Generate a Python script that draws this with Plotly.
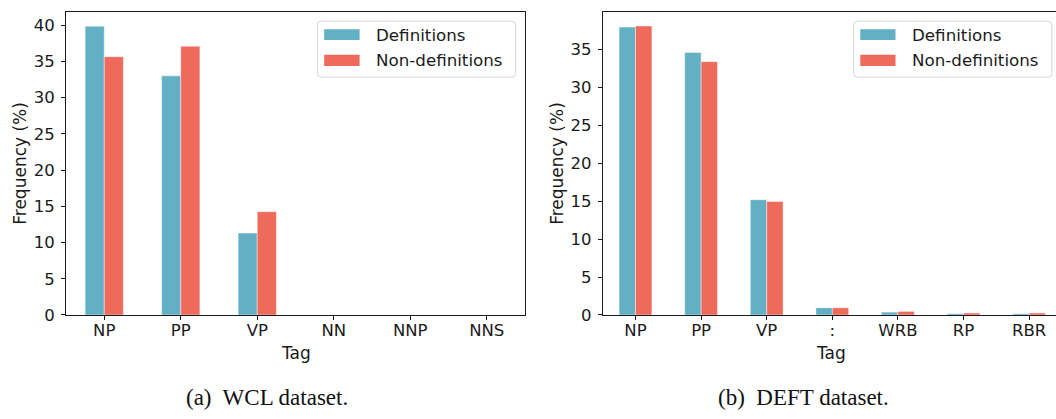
import plotly.graph_objects as go

W, H = 1056, 419

# ---- data ----
wcl_tags = ["NP", "PP", "VP", "NN", "NNP", "NNS"]
wcl_def = [39.85, 33.0, 11.3, 0.0, 0.0, 0.0]
wcl_non = [35.65, 37.1, 14.25, 0.0, 0.0, 0.0]

deft_tags = ["NP", "PP", "VP", ":", "WRB", "RP", "RBR"]
deft_def = [37.95, 34.6, 15.2, 0.95, 0.38, 0.18, 0.17]
deft_non = [38.1, 33.4, 14.95, 0.95, 0.47, 0.27, 0.27]

series_names = ["Definitions", "Non-definitions"]
captions = ["(a)\u00a0 WCL dataset.", "(b)\u00a0 DEFT dataset."]

TEAL = "#63afc4"
RED = "#ee6a5b"
FONT = "DejaVu Sans"
TXT = "#1a1a1a"
AX = "#1a1a1a"


def px(x):
    return x / W


def py(y):
    return 1 - y / H


fig = go.Figure()
edge = dict(color="rgba(255,255,255,0.55)", width=0.8)
fig.add_bar(x=wcl_tags, y=wcl_def, name=series_names[0], marker=dict(color=TEAL, line=edge),
            xaxis="x", yaxis="y", showlegend=False)
fig.add_bar(x=wcl_tags, y=wcl_non, name=series_names[1], marker=dict(color=RED, line=edge),
            xaxis="x", yaxis="y", showlegend=False)
fig.add_bar(x=deft_tags, y=deft_def, name=series_names[0], marker=dict(color=TEAL, line=edge),
            xaxis="x2", yaxis="y2", showlegend=False)
fig.add_bar(x=deft_tags, y=deft_non, name=series_names[1], marker=dict(color=RED, line=edge),
            xaxis="x2", yaxis="y2", showlegend=False)

top, bottom = 12.4, 322.7
L1, R1 = 66.0, 525.0
L2 = 602.7
sp2 = 65.6

common_x = dict(type="category", showline=True, linecolor=AX, linewidth=1,
                ticks="outside", ticklen=4, tickwidth=1, tickcolor=AX,
                tickfont=dict(family=FONT, size=16.5, color=TXT),
                ticklabelstandoff=-4,
                showgrid=False, zeroline=False, fixedrange=True)
common_y = dict(showline=True, linecolor=AX, linewidth=1,
                ticks="outside", ticklen=4, tickwidth=1, tickcolor=AX,
                tickfont=dict(family=FONT, size=16.5, color=TXT),
                showgrid=False, zeroline=False, dtick=5, tick0=0,
                ticklabelstandoff=3, fixedrange=True)

fig.update_layout(
    width=W, height=H, margin=dict(l=0, r=0, t=0, b=0),
    paper_bgcolor="white", plot_bgcolor="white",
    barmode="group", bargap=0.5, bargroupgap=0,
    xaxis=dict(common_x, domain=[px(L1), px(R1)], range=[-0.5, 5.5], anchor="y", mirror=True),
    yaxis=dict(common_y, domain=[py(bottom), py(top)], range=[0, 41.8], anchor="x", mirror=True),
    xaxis2=dict(common_x, domain=[px(L2), 1.0], range=[-0.5, -0.5 + (W - L2) / sp2], anchor="y2", mirror=True),
    yaxis2=dict(common_y, domain=[py(bottom), py(top)], range=[0, 39.93], anchor="x2", mirror=False),
)

shapes = []
annotations = []


def rounded_rect(x0, y0, x1, y1, r=3.5):
    # pixel coords (y from top) -> paper path with rounded corners
    X = lambda v: f"{px(v):.6f}"
    Y = lambda v: f"{py(v):.6f}"
    d = (f"M {X(x0 + r)},{Y(y0)} L {X(x1 - r)},{Y(y0)} Q {X(x1)},{Y(y0)} {X(x1)},{Y(y0 + r)} "
         f"L {X(x1)},{Y(y1 - r)} Q {X(x1)},{Y(y1)} {X(x1 - r)},{Y(y1)} "
         f"L {X(x0 + r)},{Y(y1)} Q {X(x0)},{Y(y1)} {X(x0)},{Y(y1 - r)} "
         f"L {X(x0)},{Y(y0 + r)} Q {X(x0)},{Y(y0)} {X(x0 + r)},{Y(y0)} Z")
    return d


# legends (drawn manually to mimic matplotlib patches)
for (bx0, bx1, p0, p1, tx) in [(317.4, 515.6, 324.2, 359.6, 374.3),
                                (853.7, 1051.8, 860.3, 895.5, 910.0)]:
    shapes.append(dict(type="path", xref="paper", yref="paper",
                       path=rounded_rect(bx0, 21.7, bx1, 79.0),
                       line=dict(color="#d6d6d6", width=1), fillcolor="rgba(255,255,255,0.85)"))
    for (c, y0, y1, name) in [(TEAL, 30.0, 41.0, series_names[0]), (RED, 56.0, 67.5, series_names[1])]:
        shapes.append(dict(type="rect", xref="paper", yref="paper",
                           x0=px(p0), x1=px(p1), y0=py(y1), y1=py(y0),
                           line=dict(width=0), fillcolor=c))
        annotations.append(dict(text=name, xref="paper", yref="paper", x=px(tx), y=py((y0 + y1) / 2),
                                xanchor="left", yanchor="middle", showarrow=False,
                                font=dict(family=FONT, size=16.7, color=TXT)))

# axis titles
for cx in [19.2, 556.3]:
    annotations.append(dict(text="Frequency (%)", xref="paper", yref="paper", x=px(cx), y=py((top + bottom) / 2),
                            xanchor="center", yanchor="middle", textangle=-90, showarrow=False,
                            font=dict(family=FONT, size=17, color=TXT)))
for cx in [(L1 + R1) / 2, 831.0]:
    annotations.append(dict(text="Tag", xref="paper", yref="paper", x=px(cx), y=py(349.0),
                            xanchor="center", yanchor="top", showarrow=False,
                            font=dict(family=FONT, size=17, color=TXT)))

# captions
for cx, cap in zip([267.0, 803.0], captions):
    annotations.append(dict(text=cap, xref="paper", yref="paper", x=px(cx), y=py(407.5),
                            xanchor="center", yanchor="middle", showarrow=False,
                            font=dict(family="Liberation Serif", size=23, color="#111111")))

fig.update_layout(shapes=shapes, annotations=annotations)
fig.write_html("out.html")
